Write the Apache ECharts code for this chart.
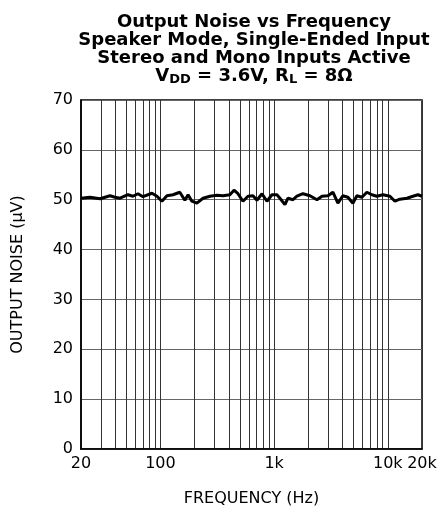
<!DOCTYPE html>
<html>
<head>
<meta charset="utf-8">
<script src="https://cdn.jsdelivr.net/npm/echarts@6/dist/echarts.min.js"></script>
<style>
  html, body { margin: 0; padding: 0; background: #fff; }
  #noiseChart { width: 443px; height: 519px; }
</style>
</head>
<body>
<div id="noiseChart"></div>
<script>
const noiseChart = echarts.init(document.getElementById('noiseChart'));

// frequency (Hz) and output noise (uV)
const freqHz = [20, 24, 29.4, 36, 39.8, 44.1, 51.8, 57.3, 63.4, 70.2, 84.2, 93.2, 103, 114, 129, 148, 164, 175, 189, 209,
    237, 273, 314, 355, 408, 444, 481, 532, 589, 652, 706, 782, 865, 957, 1059, 1125, 1245, 1324, 1465, 1588,
    1794, 2066, 2382, 2636, 2975, 3290, 3640, 4028, 4458, 4932, 5346, 5916, 6546, 7244, 8015, 9054, 10442, 11555,
    12786, 14735, 16647, 18420, 20000];
const noiseUv = [50.3, 50.5, 50.2, 50.8, 50.5, 50.3, 51.0, 50.7, 51.2, 50.6, 51.3, 50.7, 49.7, 50.8, 51.0, 51.5, 49.9, 51.0, 49.7, 49.3,
    50.3, 50.7, 50.9, 50.8, 51.0, 51.9, 51.2, 49.7, 50.7, 50.8, 49.9, 51.2, 49.7, 51.0, 51.0, 50.3, 49.0, 50.3, 50.0, 50.7,
    51.2, 50.8, 50.0, 50.7, 50.8, 51.5, 49.3, 50.8, 50.5, 49.3, 50.8, 50.5, 51.5, 51.0, 50.7, 51.0, 50.7, 49.7,
    50.1, 50.3, 50.7, 51.0, 50.7];

// vertical grid lines and x tick labels
const gridFreqs = [20, 30, 40, 50, 60, 70, 80, 90, 100, 200, 300, 400, 500, 600, 700, 800, 900,
    1000, 2000, 3000, 4000, 5000, 6000, 7000, 8000, 9000, 10000, 20000];
const freqLabels = [20, 100, 1000, 10000, 20000];

const fontFam = 'DejaVu Sans, sans-serif';

let optionNoise = {
    animation: false,
    title: {
        left: 249,
        textAlign: 'center',
        top: 8,
        text: 'Output Noise vs Frequency\nSpeaker Mode, Single-Ended Input\nStereo and Mono Inputs Active\nV{sub|DD} = 3.6V, R{sub|L} = 8Ω',
        textStyle: {
            fontFamily: fontFam,
            fontWeight: 'bold',
            fontSize: 18,
            lineHeight: 18,
            color: '#000',
            rich: {
                sub: { fontFamily: fontFam, fontWeight: 'bold', fontSize: 13, lineHeight: 18, padding: [8, 0, 0, 0], color: '#000' }
            }
        }
    },
    grid: {
        left: 81,
        right: 21,
        top: 100,
        bottom: 70,
        show: true,
        borderColor: '#000',
        borderWidth: 1.5
    },
    xAxis: {
        type: 'log',
        logBase: 10,
        min: 20,
        max: 20000,
        name: 'FREQUENCY (Hz)',
        nameLocation: 'middle',
        nameGap: 42,
        nameTextStyle: { fontFamily: fontFam, fontSize: 16, color: '#000' },
        axisLine: { lineStyle: { color: '#000', width: 1.5 } },
        axisTick: { show: false, customValues: gridFreqs },
        axisLabel: {
            customValues: freqLabels,
            fontFamily: fontFam, fontSize: 16, color: '#000', margin: 7,
            formatter: (v) => v >= 1000 ? (v / 1000) + 'k' : String(v)
        },
        splitLine: { show: true, lineStyle: { color: '#333', width: 1 } },
        minorTick: { show: false },
        minorSplitLine: { show: false }
    },
    yAxis: {
        type: 'value',
        min: 0,
        max: 70,
        interval: 10,
        name: 'OUTPUT NOISE (μV)',
        nameLocation: 'middle',
        nameGap: 55,
        nameTextStyle: { fontFamily: fontFam, fontSize: 16, color: '#000' },
        axisLine: { show: true, lineStyle: { color: '#000', width: 1.5 } },
        axisTick: { show: false },
        axisLabel: { fontFamily: fontFam, fontSize: 16, color: '#000', margin: 8 },
        splitLine: { show: true, lineStyle: { color: '#666', width: 1 } }
    },
    series: [{
        type: 'line',
        data: freqHz.map((f, i) => [f, noiseUv[i]]),
        showSymbol: false,
        symbol: 'none',
        lineStyle: { color: '#000', width: 3 }
    }]
};

noiseChart.setOption(optionNoise);
</script>
</body>
</html>
